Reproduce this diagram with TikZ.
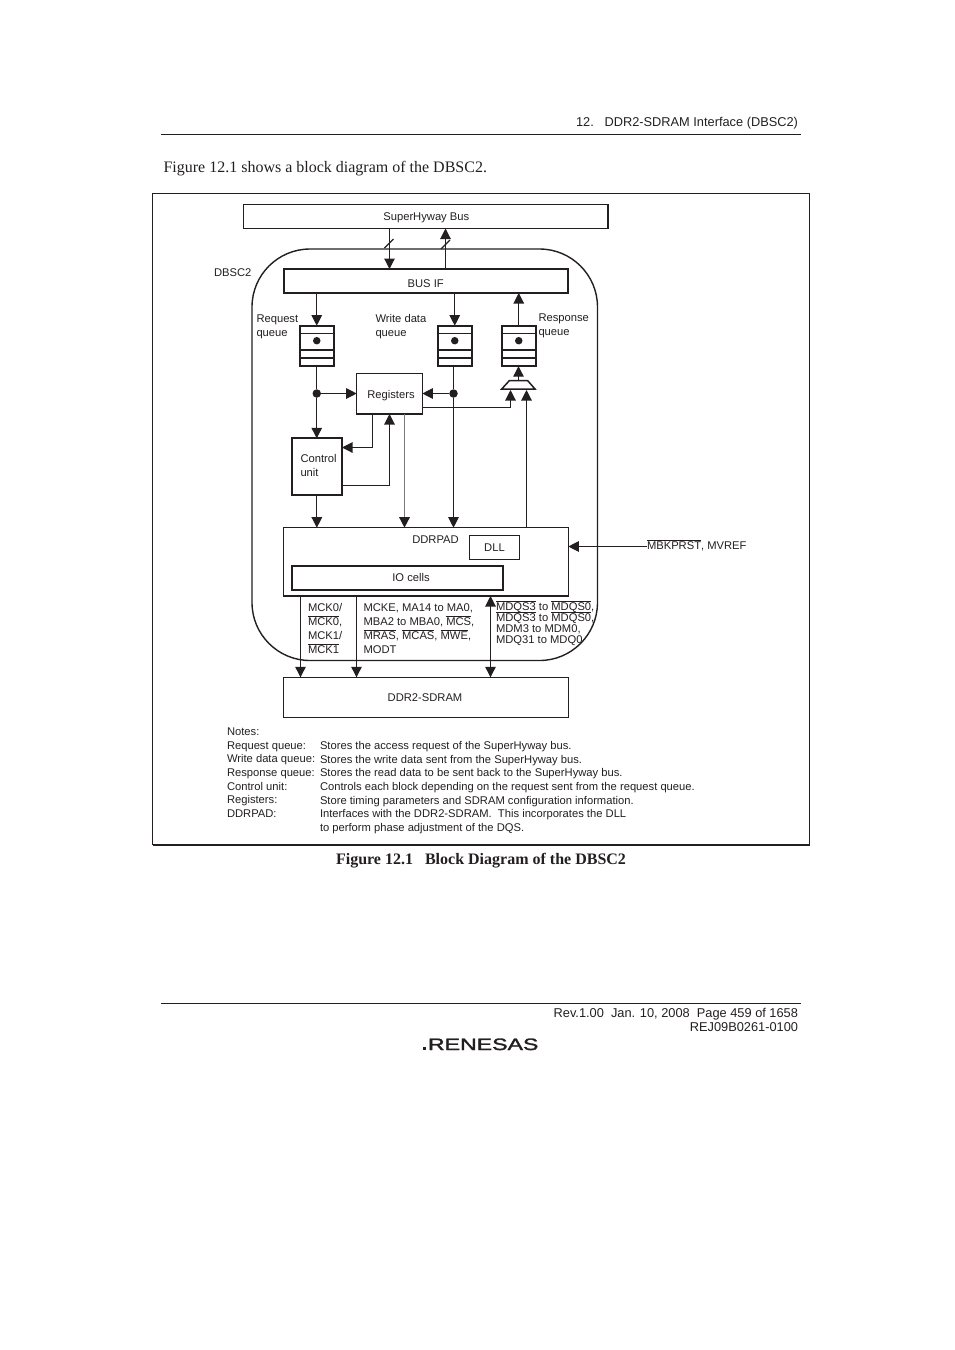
\documentclass[tikz,border=0pt]{standalone}
\usepackage{fontspec}
\setmainfont{Liberation Sans}
\newfontfamily\serif{Liberation Serif}
\newfontfamily\logofont[FakeBold=1.6]{Liberation Sans}
\usetikzlibrary{arrows.meta}
\definecolor{ink}{HTML}{231F20}
\newcommand{\ovl}[1]{\smash{\ensuremath{\overline{\mbox{#1}}}}}
\newcommand{\fbx}{\fontsize{11.2}{14}\selectfont}
\newcommand{\ftight}{\fontsize{11.2}{11}\selectfont}
\tikzset{
  x=1pt,y=-1pt,
  every node/.style={inner sep=0pt,outer sep=0pt,text=ink},
  thinbox/.style={draw=ink,line width=1.1pt,font=\fbx,align=center},
  thickbox/.style={draw=ink,line width=2pt,font=\fbx,align=center},
  lab/.style={font=\fbx,align=left,anchor=west},
  note/.style={font=\fbx,anchor=base west},
  boxtext/.style={font=\fbx,anchor=base},
  conn/.style={draw=ink,line width=1.1pt},
  arr/.style={conn,-{Triangle[length=10.5pt,width=10.5pt,color=ink,fill=ink]}},
  darr/.style={conn,{Triangle[length=10.5pt,width=10.5pt,color=ink,fill=ink]}-{Triangle[length=10.5pt,width=10.5pt,color=ink,fill=ink]}},
  dotn/.style={circle,fill=ink,minimum size=8.5pt},
  smalldot/.style={circle,fill=ink,minimum size=7.5pt},
}
\newcommand{\boxn}[7][]{\node[#6,minimum width={#4-#2},minimum height={#5-#3},#1] (#7) at ({(#2+#4)/2},{(#3+#5)/2})}
\newcommand{\queue}[3]{%
  \boxn{#2}{#3}{#2+33.5}{#3+40.5}{thickbox}{#1}{};
  \draw[draw=ink,line width=1.1pt] (#1.north west)+(0,8) -- +(33.5,8);
  \draw[draw=ink,line width=1.9pt] (#1.north west)+(0,24.5) -- +(33.5,24.5);
  \draw[draw=ink,line width=1.9pt] (#1.north west)+(0,32.5) -- +(33.5,32.5);
  \node[smalldot] (#1dot) at (#2+16.75,#3+15) {};
}
\begin{document}
\begin{tikzpicture}
\useasboundingbox (0,0) rectangle (954,1350);
% page furniture
\node[font=\fontsize{12.8}{14}\selectfont,anchor=base east] (hdr) at (798,126.5) {12.\ \ \ DDR2-SDRAM Interface (DBSC2)};
\coordinate (hrl) at (161,134.5); \coordinate (hrr) at (801,134.5);
\draw[ink,line width=1.1pt] (hrl) -- (hrr);
\node[font=\serif\fontsize{16}{18}\selectfont,anchor=base west] (intro) at (163.5,172) {Figure 12.1 shows a block diagram of the DBSC2.};
\draw[ink,line width=1.1pt] (152.5,193.5) rectangle (809.5,844.5);
\draw[ink,line width=2pt] (152.5,844.5) -- (809.5,844.5);
\node[font=\serif\bfseries\fontsize{16}{18}\selectfont,anchor=base] (cap) at (481,864.5) {Figure 12.1\ \ \ Block Diagram of the DBSC2};
\coordinate (frl) at (161,1003.5); \coordinate (frr) at (801,1003.5);
\draw[ink,line width=1.1pt] (frl) -- (frr);
\node[font=\fontsize{12.8}{14}\selectfont,anchor=base east] (rev) at (798,1017.3) {Rev.1.00\ \ Jan. 10, 2008\ \ Page 459 of 1658};
\node[font=\fontsize{12.8}{14}\selectfont,anchor=base east] (rej) at (798,1031.3) {REJ09B0261-0100};
\fill[ink] (422.5,1046.5) rectangle (425.5,1050);
\node[font=\logofont\fontsize{16.5}{17}\selectfont,anchor=base west,xscale=1.4] (logo) at (428,1050) {RENESAS};
% diagram
\draw[ink,line width=1.4pt,rounded corners=58pt] (252,249) rectangle (597.5,660.5);
\boxn{243.5}{204.5}{608}{228.5}{thinbox,line width=1.5pt}{shb}{};
\node[boxtext] (shbt) at (426.3,220) {SuperHyway Bus};
\boxn{283.7}{269}{568}{293}{thickbox}{busif}{};
\node[boxtext] (busift) at (425.7,287) {BUS IF};
\queue{rq}{300}{325.7}
\queue{wq}{438}{325.7}
\queue{rs}{502}{325.7}
\boxn{356.7}{373.7}{422.3}{414}{thinbox,line width=1.5pt}{reg}{};
\node[boxtext] (regt) at (391,398) {Registers};
\boxn{291.7}{438.3}{342}{495}{thickbox}{ctl}{};
\node[font=\fbx,align=left,anchor=west] (ctltxt) at (300.5,465.5) {Control\\unit};
\boxn{283.7}{527.7}{568.3}{596}{thinbox,line width=1.5pt}{pad}{};
\node[boxtext] (padtxt) at (435.5,543) {DDRPAD};
\boxn{469.3}{535.3}{519.3}{559.3}{thinbox}{dll}{};
\node[boxtext] (dllt) at (494.5,551) {DLL};
\boxn{291.7}{566}{503.3}{590}{thickbox}{io}{};
\node[boxtext] (iot) at (411,581) {IO cells};
\boxn{283.7}{677.3}{568.3}{717.3}{thinbox,line width=1.5pt}{sdr}{};
\node[boxtext] (sdrt) at (425,701.5) {DDR2-SDRAM};
% mux
\coordinate (mtl) at (509.3,380.7); \coordinate (mtr) at (527.7,380.7);
\coordinate (mbl) at (501.7,389); \coordinate (mbr) at (535,389);
\coordinate (mtop) at (518.5,380.7);
\coordinate (min1) at (510.5,390); \coordinate (min2) at (526.5,390);
\draw[ink,line width=1.5pt] (mtl) -- (mtr) -- (mbr) -- (mbl) -- cycle;
% bus connectors
\coordinate (b1) at (389.5,0); \coordinate (b2) at (445.5,0);
\draw[arr] (b1 |- shb.south) -- (b1 |- busif.north);
\draw[arr] (b2 |- busif.north) -- (b2 |- shb.south);
\coordinate (s1a) at (384.5,248); \coordinate (s1b) at (393.5,239);
\coordinate (s2a) at (441,249); \coordinate (s2b) at (450,240);
\draw[conn] (s1a) -- (s1b);
\draw[conn] (s2a) -- (s2b);
% queues
\draw[arr] (rq.north |- busif.south) -- (rq.north);
\draw[arr] (wq.north |- busif.south) -- (wq.north);
\draw[arr] (rs.north) -- (rs.north |- busif.south);
\node[dotn] (j1) at (316.75,393.5) {};
\node[dotn] (j2) at (453.5,393.5) {};
\draw[conn] (rq.south) -- (j1);
\draw[conn] (j2 |- wq.south) -- (j2);
\draw[arr] (j1) -- (reg.west |- j1);
\draw[arr] (j2) -- (reg.east |- j2);
\draw[arr] (j1) -- (j1 |- ctl.north);
\draw[arr] (mtop) -- (mtop |- rs.south);
% control
\coordinate (c1) at (372.5,447.5); \coordinate (c2) at (389.5,485.5); \coordinate (g) at (404.5,0);
\draw[arr] (c1 |- reg.south) -- (c1) -- (ctl.east |- c1);
\draw[arr] (ctl.east |- c2) -- (c2) -- (c2 |- reg.south);
\draw[draw=ink!60,line width=1.4pt,-{Triangle[length=10.5pt,width=10.5pt,color=ink,fill=ink]}] (g |- reg.south) -- (g |- pad.north);
\draw[arr] (j2) -- (j2 |- pad.north);
\draw[arr] (ctl.south) -- (ctl.south |- pad.north);
\coordinate (r1) at (510.5,407.5);
\draw[arr] (reg.east |- r1) -- (r1) -- (min1);
\draw[arr] (min2 |- pad.north) -- (min2);
% ext
\coordinate (ext) at (647,546.5);
\draw[arr] (ext) -- (pad.east |- ext);
\node[font=\fbx,anchor=base west] (mbk) at (647,549) {\ovl{MBKPRST}, MVREF};
% pad to sdram
\coordinate (p1) at (300.5,0); \coordinate (p2) at (356.5,0); \coordinate (p3) at (490.5,0);
\draw[arr] (p1 |- pad.south) -- (p1 |- sdr.north);
\draw[arr] (p2 |- pad.south) -- (p2 |- sdr.north);
\draw[darr] (p3 |- pad.south) -- (p3 |- sdr.north);
% labels
\node[lab] (l1) at (214,272.5) {DBSC2};
\node[lab] (l2) at (256.5,327) {Request\\queue};
\node[lab] (l3) at (375.5,327) {Write data\\queue};
\node[lab] (l4) at (538.5,326) {Response\\queue};
\node[font=\fbx,align=left,anchor=north west] (l5) at (308,603.5) {MCK0/\\\ovl{MCK0},\\MCK1/\\\ovl{MCK1}};
\node[font=\fbx,align=left,anchor=north west] (l6) at (363.5,603.5) {MCKE, MA14 to MA0,\\MBA2 to MBA0, \ovl{MCS},\\\ovl{MRAS}, \ovl{MCAS}, \ovl{MWE},\\MODT};
\node[font=\ftight,align=left,anchor=north west] (l7) at (496,603) {\ovl{MDQS3} to \ovl{MDQS0},\\\ovl{MDQS3} to \ovl{MDQS0},\\MDM3 to MDM0,\\MDQ31 to MDQ0};
% notes
\node[note] (n0) at (227,735) {Notes:};
\node[note] (n1) at (227,749) {Request queue:};
\node[note] (n2) at (227,762) {Write data queue:};
\node[note] (n3) at (227,776) {Response queue:};
\node[note] (n4) at (227,790) {Control unit:};
\node[note] (n5) at (227,803.3) {Registers:};
\node[note] (n6) at (227,817) {DDRPAD:};
\node[note] (t1) at (320,749) {Stores the access request of the SuperHyway bus.};
\node[note] (t2) at (320,763) {Stores the write data sent from the SuperHyway bus.};
\node[note] (t3) at (320,776.3) {Stores the read data to be sent back to the SuperHyway bus.};
\node[note] (t4) at (320,790) {Controls each block depending on the request sent from the request queue.};
\node[note] (t5) at (320,804) {Store timing parameters and SDRAM configuration information.};
\node[note] (t6) at (320,817.3) {Interfaces with the DDR2-SDRAM.\ \ This incorporates the DLL};
\node[note] (t7) at (320,831) {to perform phase adjustment of the DQS.};
\end{tikzpicture}
\end{document}
